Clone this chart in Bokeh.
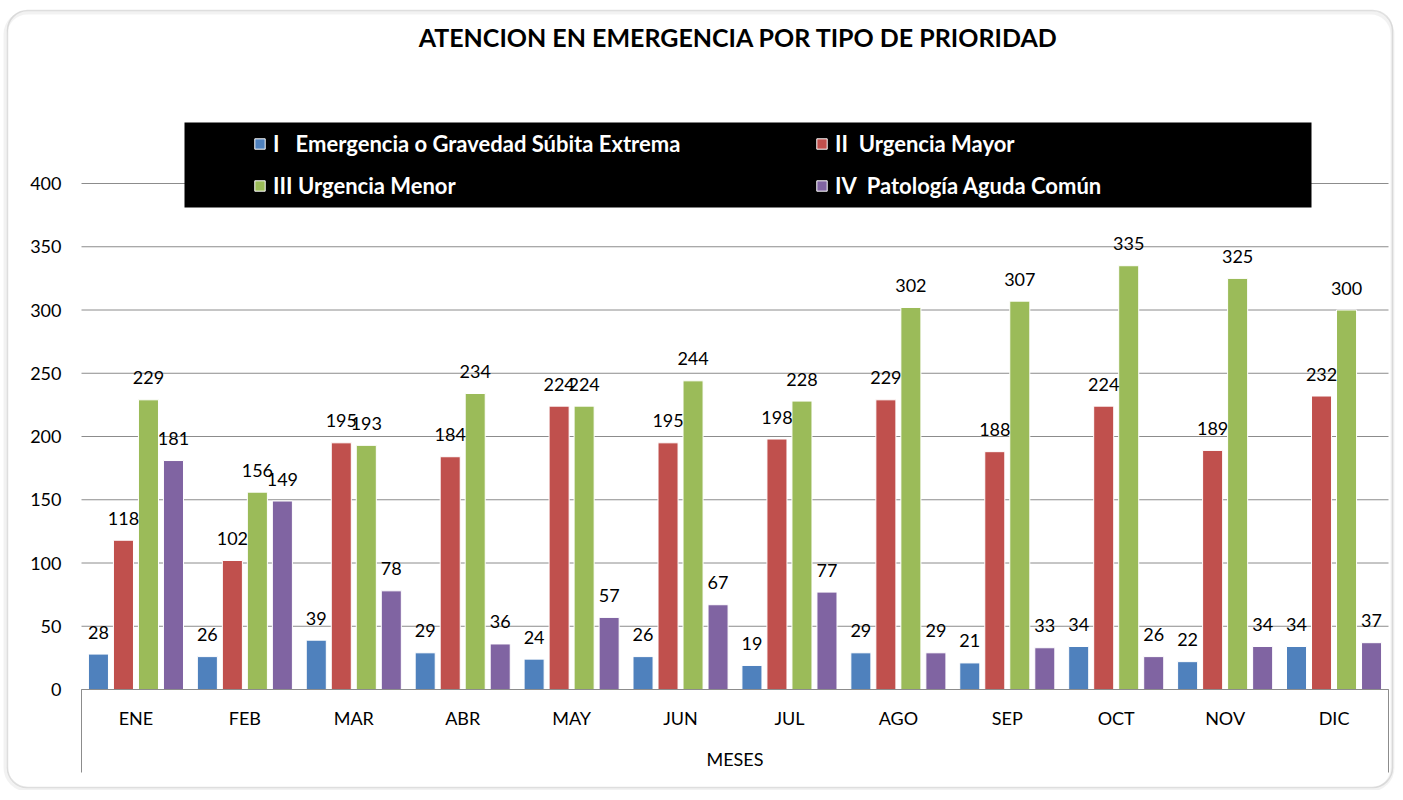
from bokeh.plotting import figure
from bokeh.models import (Range1d, FixedTicker, Legend, LegendItem, BoxAnnotation,
                          Label, ColumnDataSource)
from bokeh.embed import file_html
from bokeh.resources import INLINE
from bokeh.core.properties import value
import numpy as np

# ---------------- data ----------------
months = ["ENE", "FEB", "MAR", "ABR", "MAY", "JUN", "JUL", "AGO", "SEP", "OCT", "NOV", "DIC"]
prioridad_I = [28, 26, 39, 29, 24, 26, 19, 29, 21, 34, 22, 34]
prioridad_II = [118, 102, 195, 184, 224, 195, 198, 229, 188, 224, 189, 232]
prioridad_III = [229, 156, 193, 234, 224, 244, 228, 302, 307, 335, 325, 300]
prioridad_IV = [181, 149, 78, 36, 57, 67, 77, 29, 33, 26, 34, 37]
series_names = ["I   Emergencia o Gravedad Súbita Extrema",
                "II  Urgencia Mayor",
                "III Urgencia Menor",
                "IV  Patología Aguda Común"]
y_ticks = [0, 50, 100, 150, 200, 250, 300, 350, 400]
title_text = "ATENCION EN EMERGENCIA POR TIPO DE PRIORIDAD"
x_axis_title = "MESES"

# ---------------- layout / styles ----------------
colors = ["#4F81BD", "#C0504D", "#9BBB59", "#8064A2"]
FONT = "Lato"
GRID = "#8c8c8c"
W, H = 1395, 790
X0_PX, X12_PX = 81, 1388        # x = 0 and x = 12 in canvas px
Y0_PX, Y400_PX = 689, 183       # y = 0 and y = 400 in canvas px
XU = (X12_PX - X0_PX) / 12.0    # px per x unit
YU = (Y0_PX - Y400_PX) / 400.0  # px per y unit


def xd(px):
    return (px - X0_PX) / XU


def yd(py):
    return (Y0_PX - py) / YU


p = figure(width=W, height=H, output_backend="svg", toolbar_location=None,
           x_range=Range1d(xd(0), xd(W)), y_range=Range1d(yd(H), yd(0)),
           min_border=0, min_border_left=0, min_border_right=0,
           min_border_top=0, min_border_bottom=0)
p.background_fill_color = "white"
p.border_fill_color = "white"
p.outline_line_color = None
p.xgrid.visible = False
p.ygrid.visible = False

# horizontal grid lines (only across the plot area)
p.segment(x0=[0] * len(y_ticks), x1=[12] * len(y_ticks), y0=y_ticks, y1=y_ticks,
          line_color=GRID, line_width=1, level="underlay")
# vertical frame lines of the category-axis box
p.segment(x0=[0, 12], x1=[0, 12], y0=[0, 0], y1=[yd(772), yd(772)],
          line_color=GRID, line_width=1, level="underlay")

series = [prioridad_I, prioridad_II, prioridad_III, prioridad_IV]
pitch = 0.2296
offsets = [-1.5 * pitch, -0.5 * pitch, 0.5 * pitch, 1.5 * pitch]
bar_w = 0.184
base = np.arange(len(months)) + 0.5

renderers = []
sources = []
for vals, off, col in zip(series, offsets, colors):
    src = ColumnDataSource(dict(x=base + off, top=vals, lbl=[str(v) for v in vals]))
    sources.append(src)
    r = p.vbar(x="x", top="top", width=bar_w, source=src, fill_color=col,
               line_color="white", line_width=1)
    renderers.append(r)

# value labels drawn on top of every bar
for src in sources:
    p.text(x="x", y="top", text="lbl", source=src, text_align="center",
           text_baseline="alphabetic", y_offset=-22, text_font=value(FONT),
           text_font_size="18px", text_color="black")

# y axis (drawn inside the frame at x = 0)
p.yaxis.fixed_location = 0
p.yaxis.ticker = FixedTicker(ticks=y_ticks)
p.yaxis.axis_line_color = None
p.yaxis.major_tick_line_color = None
p.yaxis.minor_tick_line_color = None
p.yaxis.major_tick_out = 0
p.yaxis.major_tick_in = 0
p.yaxis.major_label_standoff = 20
p.yaxis.major_label_text_font = FONT
p.yaxis.major_label_text_font_size = "18px"
p.yaxis.major_label_text_color = "black"

# x axis (drawn inside the frame at y = 0)
p.xaxis.fixed_location = 0
p.xaxis.bounds = (0, 12)
p.xaxis.ticker = FixedTicker(ticks=list(base), minor_ticks=[])
p.xaxis.major_label_overrides = {float(b): m for b, m in zip(base, months)}
p.xaxis.axis_line_color = GRID
p.xaxis.major_tick_line_color = None
p.xaxis.minor_tick_line_color = None
p.xaxis.major_tick_out = 0
p.xaxis.major_tick_in = 0
p.xaxis.major_label_standoff = 17
p.xaxis.major_label_text_font = FONT
p.xaxis.major_label_text_font_size = "18px"
p.xaxis.major_label_text_color = "black"
p.xaxis.axis_label = x_axis_title
p.xaxis.axis_label_text_font = FONT
p.xaxis.axis_label_text_font_size = "18px"
p.xaxis.axis_label_text_font_style = "normal"
p.xaxis.axis_label_text_color = "black"
p.xaxis.axis_label_standoff = 16

# legend background box
box = BoxAnnotation(left=xd(184), right=xd(1311), top=yd(122), bottom=yd(207),
                    fill_color="black", fill_alpha=1.0, line_color=None)
p.add_layout(box)

order = [0, 2, 1, 3]  # legend fills column-wise
legend = Legend(items=[LegendItem(label=series_names[i], renderers=[renderers[i]]) for i in order],
                ncols=2, location=(253, H - 200), padding=0, margin=0, spacing=12,
                glyph_width=13, glyph_height=13, label_standoff=7,
                label_width=530, label_height=30,
                label_text_font=FONT, label_text_font_size="22px",
                label_text_font_style="bold", label_text_color="white",
                background_fill_alpha=0, border_line_color=None)
p.add_layout(legend, "center")

# title
p.add_layout(Label(x=xd(738), y=yd(36), text=title_text,
                   text_align="center", text_baseline="middle", text_font=FONT,
                   text_font_size="25px", text_font_style="bold", text_color="black"))

# chart outer rounded border with a soft shadow
p.add_layout(BoxAnnotation(left=5, right=W - 3, top=12, bottom=H - 1,
                           left_units="canvas", right_units="canvas",
                           top_units="canvas", bottom_units="canvas",
                           border_radius=22, fill_color=None,
                           line_color="#d4d4d4", line_width=4))
p.add_layout(BoxAnnotation(left=7, right=W - 3, top=10, bottom=H - 3,
                           left_units="canvas", right_units="canvas",
                           top_units="canvas", bottom_units="canvas",
                           border_radius=20, fill_color=None,
                           line_color="#a0a0a0", line_width=1.5))

open("out.html", "w").write(file_html(p, INLINE))
